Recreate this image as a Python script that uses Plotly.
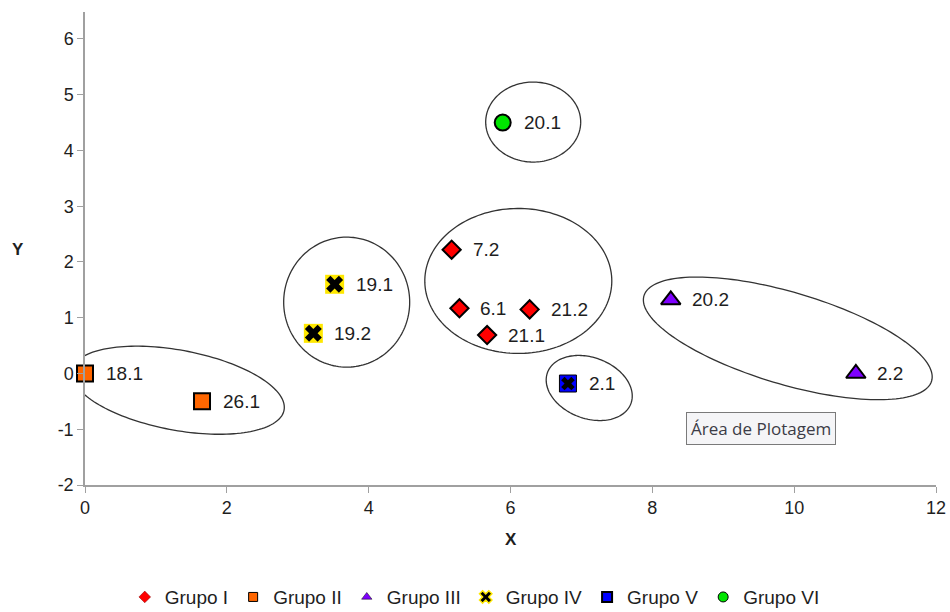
import numpy as np
import plotly.graph_objects as go

# ---- data -------------------------------------------------------------
groups = ["Grupo I", "Grupo II", "Grupo III", "Grupo IV", "Grupo V", "Grupo VI"]

g1_x = [5.17, 5.28, 6.27, 5.67]
g1_y = [2.22, 1.17, 1.15, 0.69]
g1_lab = ["7.2", "6.1", "21.2", "21.1"]

g2_x = [0.0, 1.65]
g2_y = [0.0, -0.50]
g2_lab = ["18.1", "26.1"]

g3_x = [8.26, 10.87]
g3_y = [1.32, 0.0]
g3_lab = ["20.2", "2.2"]

g4_x = [3.52, 3.22]
g4_y = [1.60, 0.72]
g4_lab = ["19.1", "19.2"]

g5_x = [6.81]
g5_y = [-0.18]
g5_lab = ["2.1"]

g6_x = [5.89]
g6_y = [4.50]
g6_lab = ["20.1"]

x_ticks = [0, 2, 4, 6, 8, 10, 12]
y_ticks = [-2, -1, 0, 1, 2, 3, 4, 5, 6]

# ---- layout geometry --------------------------------------------------
W, H = 950, 612
M = dict(l=85, r=14, t=12, b=127)
X_RANGE = [0, 12]
Y_RANGE = [-2, 6.484]
PX_X = (W - M["l"] - M["r"]) / (X_RANGE[1] - X_RANGE[0])
PX_Y = (H - M["t"] - M["b"]) / (Y_RANGE[1] - Y_RANGE[0])

LABEL_FONT = dict(family="Liberation Sans, Arial, sans-serif", size=19, color="#1e1e1e")

fig = go.Figure()


def add_group(xs, ys, labels, marker):
    fig.add_trace(go.Scatter(x=xs, y=ys, mode="markers", marker=marker,
                             showlegend=False, cliponaxis=False, hoverinfo="skip"))
    for x, y, t in zip(xs, ys, labels):
        fig.add_annotation(x=x, y=y, text=t, showarrow=False, xanchor="left",
                           yanchor="middle", xshift=19, font=LABEL_FONT)


BLK = dict(color="black", width=2)
add_group(g1_x, g1_y, g1_lab, dict(symbol="diamond", size=14, color="#ff0000", line=BLK))
add_group(g2_x, g2_y, g2_lab, dict(symbol="square", size=16, color="#ff6600", line=BLK))
add_group(g3_x, g3_y, g3_lab, dict(symbol="triangle-up", size=17, color="#7f00ff", line=BLK))
# yellow tile behind the black cross
fig.add_trace(go.Scatter(x=g4_x, y=g4_y, mode="markers", showlegend=False, cliponaxis=False,
                         hoverinfo="skip",
                         marker=dict(symbol="square", size=19, color="#ffe800", line=dict(width=0))))
add_group(g4_x, g4_y, g4_lab, dict(symbol="x", size=15, color="black", line=dict(width=0)))
fig.add_trace(go.Scatter(x=g5_x, y=g5_y, mode="markers", showlegend=False, cliponaxis=False,
                         hoverinfo="skip",
                         marker=dict(symbol="square", size=17, color="#0000ff",
                                     line=dict(color="black", width=1))))
add_group(g5_x, g5_y, g5_lab, dict(symbol="x", size=12, color="black", line=dict(width=0)))
add_group(g6_x, g6_y, g6_lab, dict(symbol="circle", size=16, color="#00e600", line=BLK))

# legend-only entries with small symbols
legend_markers = [
    dict(symbol="diamond", size=9, color="#ff0000", line=dict(color="#800000", width=0.5)),
    dict(symbol="square", size=9, color="#ff6600", line=dict(color="black", width=1)),
    dict(symbol="triangle-up", size=9, color="#7f00ff", line=dict(color="black", width=0.5)),
    dict(symbol="x", size=11, color="black", line=dict(color="#ffe800", width=1.5)),
    dict(symbol="square", size=10, color="#0000ff", line=dict(color="black", width=2)),
    dict(symbol="circle", size=10, color="#00e600", line=dict(color="black", width=1)),
]
for name, mk in zip(groups, legend_markers):
    fig.add_trace(go.Scatter(x=[None], y=[None], mode="markers", name=name, marker=mk))


# ---- group outlines ---------------------------------------------------
def ellipse_path(cx, cy, a_px, b_px, ang_deg, n=160):
    t = np.linspace(0, 2 * np.pi, n)
    th = np.radians(ang_deg)
    dx = a_px * np.cos(t) * np.cos(th) - b_px * np.sin(t) * np.sin(th)
    dy = a_px * np.cos(t) * np.sin(th) + b_px * np.sin(t) * np.cos(th)
    xs = cx + dx / PX_X
    ys = cy - dy / PX_Y
    pts = [f"{x:.4f},{y:.4f}" for x, y in zip(xs, ys)]
    return "M " + " L ".join(pts) + " Z"


outlines = [
    (1.31, -0.30, 108, 40, 10.6),
    (3.69, 1.28, 63, 65, 0),
    (6.11, 1.66, 93.5, 72.5, 0),
    (7.11, -0.26, 44.5, 30.5, 20.5),
    (9.91, 0.63, 150, 46, 16.5),
    (6.32, 4.51, 47.5, 40, 0),
]
for cx, cy, a, b, ang in outlines:
    fig.add_shape(type="path", path=ellipse_path(cx, cy, a, b, ang), xref="x", yref="y",
                  line=dict(color="#333333", width=1.3), layer="below")

# ---- axis titles and plot-area tip -------------------------------------
TITLE_FONT = dict(family="Liberation Sans, Arial, sans-serif", size=17, color="#1e1e1e")
fig.add_annotation(text="<b>Y</b>", xref="paper", yref="paper", x=-0.079, y=0.497,
                   xanchor="center", yanchor="middle", showarrow=False, font=TITLE_FONT)
fig.add_annotation(text="<b>X</b>", xref="paper", yref="paper", x=0.5, y=-0.116,
                   xanchor="center", yanchor="middle", showarrow=False, font=TITLE_FONT)
fig.add_annotation(text="Área de Plotagem", xref="paper", yref="paper", x=0.794, y=0.1205,
                   xanchor="center", yanchor="middle",
                   showarrow=False, bgcolor="#f5f5f7", bordercolor="#7a7a7a", borderwidth=1,
                   borderpad=4,
                   font=dict(family="Open Sans, Noto Sans, sans-serif", size=17, color="#3c3c46"))

AX = dict(showgrid=False, zeroline=False, showline=True, linecolor="#a0a0a0", linewidth=1.5,
          ticks="outside", tickcolor="#a0a0a0", ticklen=6, tickwidth=1,
          tickfont=dict(family="Liberation Sans, Arial, sans-serif", size=18, color="#1e1e1e"))

fig.update_layout(
    width=W, height=H, margin=dict(M, autoexpand=False),
    paper_bgcolor="white", plot_bgcolor="white",
    xaxis=dict(range=X_RANGE, tickvals=x_ticks, ticktext=[str(v) for v in x_ticks], **AX),
    yaxis=dict(range=Y_RANGE, tickvals=y_ticks, ticktext=[str(v) for v in y_ticks], **AX),
    legend=dict(orientation="h", x=0.458, xanchor="center", y=-0.237, yanchor="middle",
                font=dict(family="Liberation Sans, Arial, sans-serif", size=19, color="#1e1e1e"),
                itemwidth=30, tracegroupgap=0, bgcolor="rgba(0,0,0,0)"),
    showlegend=True,
)

fig.write_html("out.html")
